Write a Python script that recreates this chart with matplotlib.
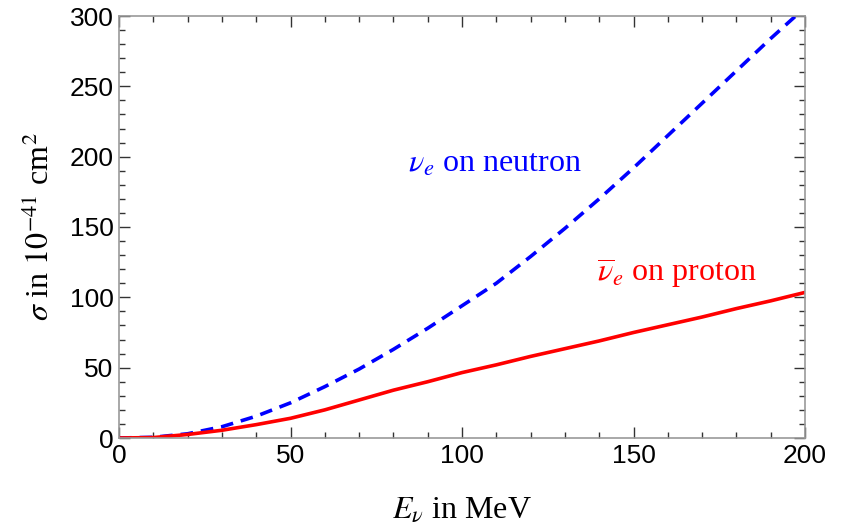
import matplotlib
matplotlib.use("Agg")
import matplotlib.pyplot as plt
from matplotlib.ticker import MultipleLocator

energy = [0, 10, 20, 30, 40, 50, 60, 70, 80, 90, 100,
          110, 120, 130, 140, 150, 160, 170, 180, 190, 200]
nu_neutron = [0, 0.5, 3, 8, 15.5, 25, 36.5, 49, 63, 78, 94,
              110, 129, 149, 170, 192, 215, 238, 261, 284, 306]
nubar_proton = [0, 0.3, 2.5, 5.5, 9.5, 14, 20, 27, 34, 40, 46.5,
                52, 58, 63.5, 69, 75, 80.5, 86, 92, 97.5, 103.5]

plt.rcParams['mathtext.fontset'] = 'stix'

fig = plt.figure(figsize=(8.44, 5.29), dpi=100)
ax = fig.add_axes([119 / 844, 1 - 438 / 529, 686 / 844, 422 / 529])

ax.plot(energy, nu_neutron, color="#0000ff", lw=2.6, ls=(0, (3.5, 2.2)))
ax.plot(energy, nubar_proton, color="#ff0000", lw=2.6)

ax.set_xlim(0, 200)
ax.set_ylim(0, 300)
ax.xaxis.set_major_locator(MultipleLocator(50))
ax.xaxis.set_minor_locator(MultipleLocator(10))
ax.yaxis.set_major_locator(MultipleLocator(50))
ax.yaxis.set_minor_locator(MultipleLocator(10))
ax.tick_params(which="both", direction="in", top=True, right=True,
               color="#333333", width=1)
ax.tick_params(which="major", length=8, labelsize=19, pad=4)
ax.tick_params(which="minor", length=4)
for lab in ax.get_xticklabels() + ax.get_yticklabels():
    lab.set_fontfamily("Liberation Sans")
for sp in ax.spines.values():
    sp.set_color("#999999")
    sp.set_linewidth(1.2)

ax.set_xlabel(r"$E_\nu$ in MeV", fontsize=23, family="Liberation Serif", labelpad=20)
ax.set_ylabel(r"$\sigma$ in $10^{-41}$ cm$^2$", fontsize=23, family="Liberation Serif", labelpad=10)

ax.text(109.5, 194.5, r"$\nu_e$ on neutron", color="#0000ff", fontsize=23,
        family="Liberation Serif", ha="center", va="center")
ax.text(162.7, 117, r"$\overline{\nu}_e$ on proton", color="#ff0000", fontsize=23,
        family="Liberation Serif", ha="center", va="center")

plt.savefig("out.png", dpi=100)
plt.close()
